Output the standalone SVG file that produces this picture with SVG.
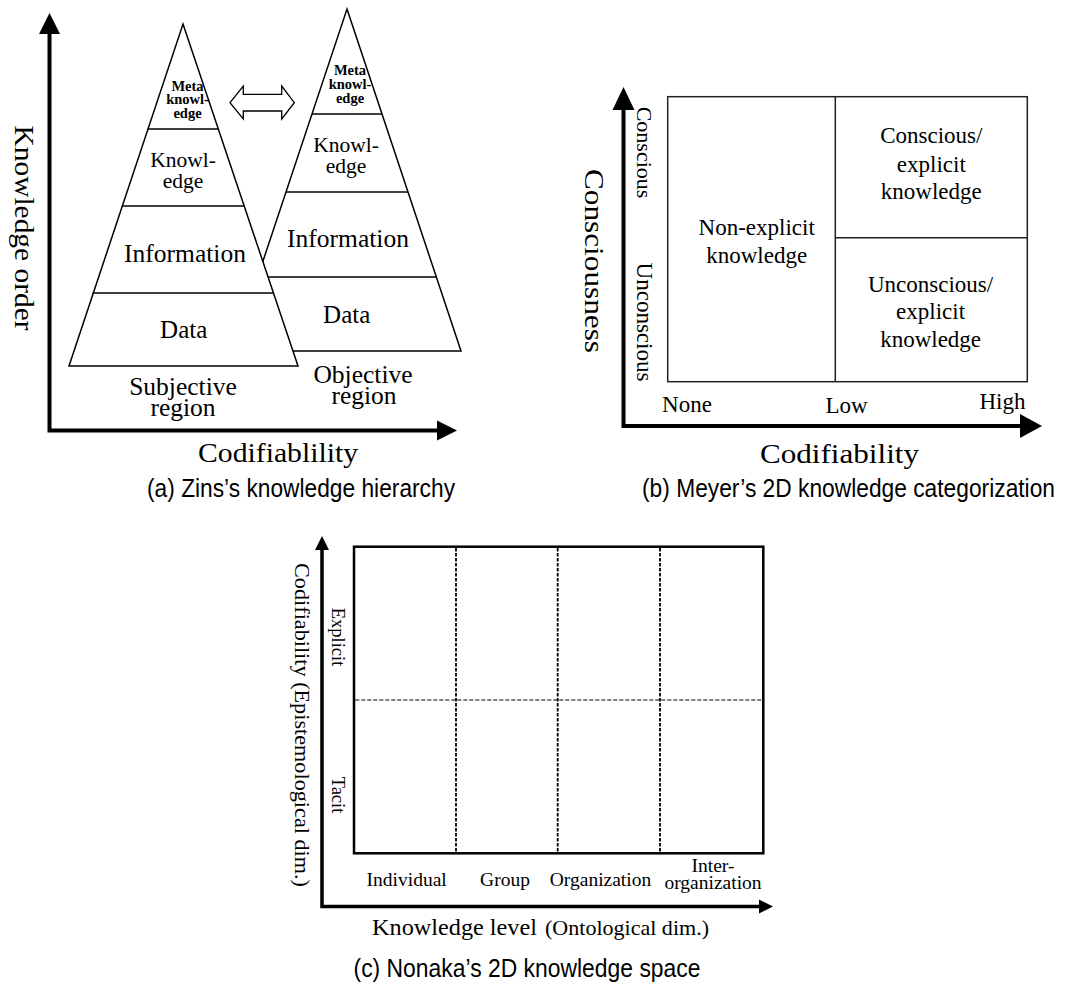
<svg xmlns="http://www.w3.org/2000/svg" width="1065" height="982" viewBox="0 0 1065 982">
  <style>
    .serif { font-family: "Liberation Serif", "Times New Roman", serif; fill: #000; }
    .sans { font-family: "Liberation Sans", Arial, sans-serif; fill: #000; }
    .mid { text-anchor: middle; }
    .axis { fill: none; stroke: #000; stroke-width: 4; stroke-linejoin: miter; }
    .axis-c { fill: none; stroke: #000; stroke-width: 3.5; stroke-linejoin: miter; }
    .head { fill: #000; stroke: none; }
    .tri { fill: #fff; stroke: #000; stroke-width: 1.5; stroke-linejoin: miter; }
    .tier { stroke: #000; stroke-width: 1.5; }
    .box { fill: #fff; stroke: #222; stroke-width: 1.5; }
    .boxline { stroke: #222; stroke-width: 1.5; }
    .grid { fill: #fff; stroke: #000; stroke-width: 2.5; }
    .dashv { stroke: #000; stroke-width: 1.8; stroke-dasharray: 3.5 1.5; }
    .dashh { stroke: #000; stroke-width: 1.1; stroke-dasharray: 4 2; }
    .meta { font-family: "Liberation Serif", "Times New Roman", serif; font-weight: bold; font-size: 14.5px; text-anchor: middle; }
  </style>

  <rect x="0" y="0" width="1065" height="982" fill="#fff"/>

  <!-- ============ (a) hierarchy ============ -->
  <g id="connectors-a">
    <path class="axis" d="M49.5,33 V430.5 H437"/>
    <polygon class="head" points="49.5,13 60,34 39,34"/>
    <polygon class="head" points="457,430.5 437,420.5 437,440.5"/>
  </g>

  <!-- objective pyramid (behind) -->
  <g id="pyramid-objective">
    <polygon class="tri" points="347,9 461,351 233,351"/>
    <line class="tier" x1="312" y1="114" x2="382" y2="114"/>
    <line class="tier" x1="286" y1="192" x2="408" y2="192"/>
    <line class="tier" x1="257.7" y1="277" x2="436.3" y2="277"/>
    <text class="meta" x="350" y="75">Meta</text>
    <text class="meta" x="350" y="89">knowl-</text>
    <text class="meta" x="350" y="102.5">edge</text>
    <text class="serif mid" x="346" y="151.7" font-size="21.5">Knowl-</text>
    <text class="serif mid" x="346" y="172.7" font-size="21.5">edge</text>
    <text class="serif mid" x="348" y="246.7" font-size="25.5">Information</text>
    <text class="serif mid" x="346.7" y="323.3" font-size="25">Data</text>
  </g>

  <!-- subjective pyramid (front) -->
  <g id="pyramid-subjective">
    <polygon class="tri" points="183,24 298,366 69,366"/>
    <line class="tier" x1="147.7" y1="129" x2="218.3" y2="129"/>
    <line class="tier" x1="121.8" y1="206" x2="244.2" y2="206"/>
    <line class="tier" x1="92.6" y1="293" x2="273.4" y2="293"/>
    <text class="meta" x="187.5" y="90.5">Meta</text>
    <text class="meta" x="187.5" y="104">knowl-</text>
    <text class="meta" x="187.5" y="118">edge</text>
    <text class="serif mid" x="183" y="167" font-size="21.5">Knowl-</text>
    <text class="serif mid" x="183" y="188" font-size="21.5">edge</text>
    <text class="serif mid" x="185" y="262" font-size="25.5">Information</text>
    <text class="serif mid" x="183.7" y="338" font-size="25">Data</text>
  </g>

  <g id="exchange-arrow">
    <polygon points="230,102.7 243.3,86 243.3,94.3 281.7,94.3 281.7,86 294.3,102.7 281.7,119 281.7,111 243.3,111 243.3,119" fill="#fff" stroke="#000" stroke-width="1.3" stroke-linejoin="miter"/>
  </g>

  <g id="labels-a">
    <text class="serif mid" x="183" y="395" font-size="25.5">Subjective</text>
    <text class="serif mid" x="183" y="415.5" font-size="25.5">region</text>
    <text class="serif mid" x="363" y="383.3" font-size="25.5">Objective</text>
    <text class="serif mid" x="364" y="403.8" font-size="25.5">region</text>
    <text class="serif mid" x="278" y="462" font-size="28" textLength="160" lengthAdjust="spacingAndGlyphs">Codifiablility</text>
    <text class="serif mid" transform="translate(15,228) rotate(90)" font-size="28" textLength="205" lengthAdjust="spacingAndGlyphs">Knowledge order</text>
    <text class="sans mid" transform="translate(301,497) scale(1,1.15)" font-size="22.5" textLength="308" lengthAdjust="spacingAndGlyphs">(a) Zins’s knowledge hierarchy</text>
  </g>

  <!-- ============ (b) 2D categorization ============ -->
  <g id="connectors-b">
    <path class="axis" d="M623.5,110 V426 H1020"/>
    <polygon class="head" points="623.5,87 612.5,110 634.5,110"/>
    <polygon class="head" points="1042,426 1020,414 1020,438"/>
  </g>

  <g id="quadrant-frame">
    <rect class="box" x="667.7" y="96.7" width="359.6" height="285"/>
    <line class="boxline" x1="835.3" y1="96.7" x2="835.3" y2="381.7"/>
    <line class="boxline" x1="835.3" y1="237.7" x2="1027.3" y2="237.7"/>
  </g>

  <g id="non-explicit">
    <text class="serif mid" x="756.7" y="235" font-size="23">Non-explicit</text>
    <text class="serif mid" x="756.7" y="263" font-size="23">knowledge</text>
  </g>

  <g id="conscious-explicit">
    <text class="serif mid" x="931.3" y="143.3" font-size="23">Conscious/</text>
    <text class="serif mid" x="931.3" y="171.5" font-size="23">explicit</text>
    <text class="serif mid" x="931.3" y="198.5" font-size="23">knowledge</text>
  </g>

  <g id="unconscious-explicit">
    <text class="serif mid" x="930.6" y="291.7" font-size="23">Unconscious/</text>
    <text class="serif mid" x="930.6" y="319.3" font-size="23">explicit</text>
    <text class="serif mid" x="930.6" y="346.7" font-size="23">knowledge</text>
  </g>

  <g id="labels-b">
    <text class="serif mid" transform="translate(585,261) rotate(90)" font-size="27" textLength="184" lengthAdjust="spacingAndGlyphs">Consciousness</text>
    <text class="serif mid" transform="translate(636.5,152.5) rotate(90)" font-size="22">Conscious</text>
    <text class="serif mid" transform="translate(636.5,322) rotate(90)" font-size="23">Unconscious</text>
    <text class="serif mid" x="687" y="412" font-size="23">None</text>
    <text class="serif mid" x="846.5" y="413" font-size="23">Low</text>
    <text class="serif mid" x="1002.5" y="409" font-size="23">High</text>
    <text class="serif mid" x="839.5" y="463" font-size="28" textLength="159" lengthAdjust="spacingAndGlyphs">Codifiability</text>
    <text class="sans mid" transform="translate(848.5,497) scale(1,1.15)" font-size="22.5" textLength="413" lengthAdjust="spacingAndGlyphs">(b) Meyer’s 2D knowledge categorization</text>
  </g>

  <!-- ============ (c) 2D knowledge space ============ -->
  <g id="connectors-c">
    <path class="axis-c" d="M322,550 V906.5 H759"/>
    <polygon class="head" points="322,536 315,550 329,550"/>
    <polygon class="head" points="773,906.5 759,899.5 759,913.5"/>
  </g>

  <g id="knowledge-grid">
    <rect class="grid" x="354" y="546.7" width="409.3" height="306.6"/>
    <line class="dashh" x1="355.3" y1="700" x2="762" y2="700"/>
    <line class="dashv" x1="456" y1="548" x2="456" y2="852"/>
    <line class="dashv" x1="557.7" y1="548" x2="557.7" y2="852"/>
    <line class="dashv" x1="660" y1="548" x2="660" y2="852"/>
  </g>

  <g id="labels-c">
    <text class="serif mid" transform="translate(295,725) rotate(90)" font-size="22" textLength="324" lengthAdjust="spacingAndGlyphs">Codifiability (Epistemological dim.)</text>
    <text class="serif mid" transform="translate(331.5,637) rotate(90)" font-size="18.5">Explicit</text>
    <text class="serif mid" transform="translate(331.5,795) rotate(90)" font-size="18.5">Tacit</text>
    <text class="serif mid" x="406.7" y="885.5" font-size="19.5">Individual</text>
    <text class="serif mid" x="505" y="885.5" font-size="19.5">Group</text>
    <text class="serif mid" x="600.5" y="885.5" font-size="19.5">Organization</text>
    <text class="serif mid" x="713" y="872" font-size="19.5">Inter-</text>
    <text class="serif mid" x="713" y="889" font-size="19.5">organization</text>
    <text class="serif" x="372" y="935" font-size="24" textLength="165" lengthAdjust="spacingAndGlyphs">Knowledge level</text>
    <text class="serif" x="545" y="935" font-size="21" textLength="164" lengthAdjust="spacingAndGlyphs">(Ontological dim.)</text>
    <text class="sans mid" transform="translate(527,977) scale(1,1.15)" font-size="22.5" textLength="347" lengthAdjust="spacingAndGlyphs">(c) Nonaka’s 2D knowledge space</text>
  </g>
</svg>
